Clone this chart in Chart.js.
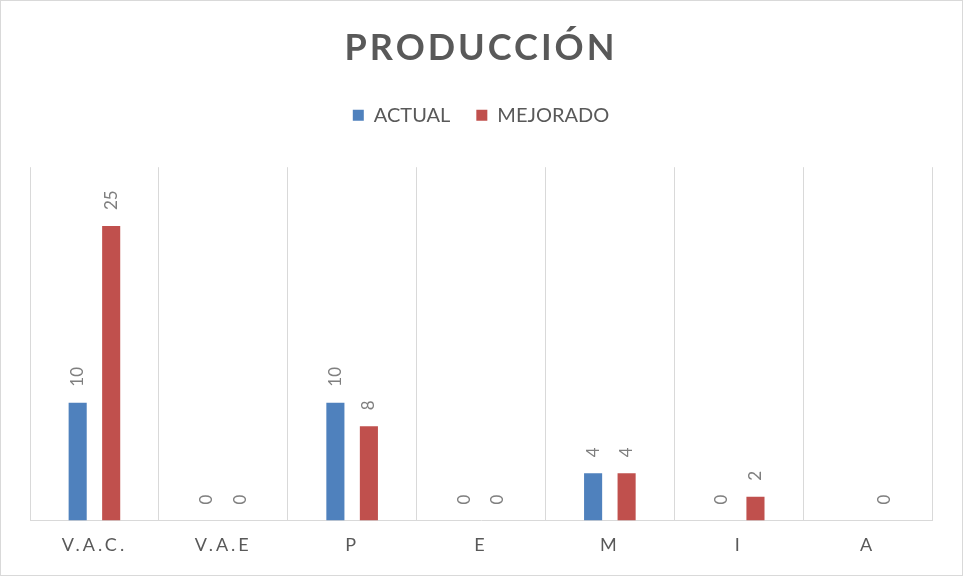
<!DOCTYPE html>
<html lang="es">
<head>
<meta charset="UTF-8">
<title>Producción</title>
<style>
  html, body { margin: 0; padding: 0; background: #ffffff; }
  .box { position: relative; width: 963px; height: 576px; }
</style>
</head>
<body>
<div class="box"><canvas id="prodChart"></canvas></div>
<script src="https://cdn.jsdelivr.net/npm/chart.js"></script>
<script>
const categorias = ['V.A.C.', 'V.A.E', 'P', 'E', 'M', 'I', 'A'];
const actual = [10, 0, 10, 0, 4, 0, null];
const mejorado = [25, 0, 8, 0, 4, 2, 0];
const maxY = 30;

const fuente = 'Lato';

// etiquetas de valor giradas encima de cada barra
const etiquetas = {
    id: 'etiquetas',
    afterDatasetsDraw(chart) {
        const ctx = chart.ctx;
        ctx.save();
        ctx.font = '17px ' + fuente;
        ctx.fillStyle = '#7f7f7f';
        ctx.textAlign = 'left';
        ctx.textBaseline = 'middle';
        chart.data.datasets.forEach((ds, i) => {
            chart.getDatasetMeta(i).data.forEach((bar, j) => {
                const v = ds.data[j];
                if (v === null || v === undefined) return;
                ctx.save();
                ctx.translate(bar.x, bar.y - 16);
                ctx.rotate(-Math.PI / 2);
                ctx.fillText(String(v), 0, 0);
                ctx.restore();
            });
        });
        ctx.restore();
    }
};

const borde = {
    id: 'borde',
    afterDraw(chart) {
        const ctx = chart.ctx;
        ctx.save();
        ctx.strokeStyle = '#d9d9d9';
        ctx.lineWidth = 1;
        ctx.strokeRect(0.5, 0.5, chart.width - 1, chart.height - 1);
        ctx.restore();
    }
};

const chart = new Chart(document.getElementById('prodChart'), {
    type: 'bar',
    data: {
        labels: categorias,
        datasets: [
            { label: 'ACTUAL', data: actual, backgroundColor: '#4f81bd', borderWidth: 0 },
            { label: 'MEJORADO', data: mejorado, backgroundColor: '#c0504d', borderWidth: 0 }
        ]
    },
    options: {
        responsive: true,
        maintainAspectRatio: false,
        animation: false,
        categoryPercentage: 0.52,
        barPercentage: 0.54,
        layout: { padding: { left: 30, right: 31, top: 0, bottom: 6 } },
        plugins: {
            title: {
                display: true,
                text: 'PRODUCCIÓN',
                color: '#595959',
                font: { family: fuente, size: 36, weight: 'bold' },
                padding: { top: 27, bottom: 9 }
            },
            subtitle: {
                display: true,
                text: ' ',
                weight: 500,
                padding: { top: 0, bottom: 8 },
                font: { size: 20 }
            },
            legend: {
                labels: {
                    boxWidth: 11,
                    boxHeight: 11,
                    color: '#595959',
                    font: { family: fuente, size: 20 },
                    padding: 26
                }
            },
            tooltip: { enabled: false }
        },
        scales: {
            x: {
                grid: { display: true, offset: true, color: '#d9d9d9', drawTicks: false },
                border: { color: '#d9d9d9' },
                ticks: { color: '#595959', font: { family: fuente, size: 18 }, padding: 14, maxRotation: 0 }
            },
            y: { display: false, min: 0, max: maxY }
        }
    },
    plugins: [etiquetas, borde]
});

// espaciado de letras en el título y en las categorías
function espaciar(obj, metodo) {
    const orig = obj[metodo];
    obj[metodo] = function (...args) {
        const c = chart.ctx;
        c.save();
        c.letterSpacing = '3px';
        orig.apply(this, args);
        c.restore();
    };
}
espaciar(chart.scales.x, 'drawLabels');
espaciar(chart.titleBlock, 'draw');
chart.draw();
</script>
</body>
</html>
